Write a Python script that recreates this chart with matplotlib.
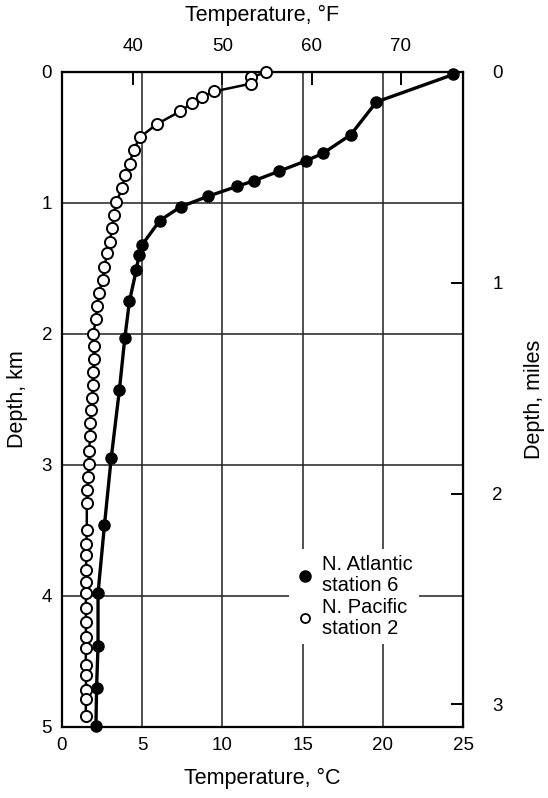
import matplotlib
matplotlib.use("Agg")
import matplotlib.pyplot as plt
from matplotlib.lines import Line2D

plt.rcParams["font.family"] = ["Liberation Sans", "DejaVu Sans"]

# North Atlantic station 6 (filled): temperature in deg C, depth in km
atl_temp = [24.4, 19.6, 18.0, 16.3, 15.2, 13.5, 12.0, 10.9, 9.1, 7.4, 6.1,
            5.0, 4.8, 4.64, 4.21, 3.92, 3.58, 3.07, 2.65, 2.25, 2.25, 2.16, 2.12]
atl_depth = [0.02, 0.23, 0.48, 0.62, 0.68, 0.76, 0.83, 0.875, 0.95, 1.03, 1.135,
             1.32, 1.40, 1.51, 1.75, 2.03, 2.43, 2.95, 3.46, 3.98, 4.38, 4.70, 4.99]

# North Pacific station 2 (open)
pac_temp = [12.7, 11.8, 11.8, 9.47, 8.75, 8.1, 7.39, 5.9, 4.86, 4.47, 4.22,
            3.92, 3.76, 3.39, 3.24, 3.14, 2.98, 2.82, 2.65, 2.53, 2.3, 2.2,
            2.12, 1.95, 1.98, 1.98, 1.95, 1.91, 1.87, 1.81, 1.77, 1.74, 1.71,
            1.66, 1.63, 1.58, 1.55, 1.55, 1.53, 1.52, 1.5, 1.5, 1.49, 1.5,
            1.49, 1.5, 1.5, 1.48, 1.5, 1.5, 1.5, 1.48]
pac_depth = [0.005, 0.04, 0.09, 0.15, 0.19, 0.24, 0.30, 0.40, 0.50, 0.595, 0.70,
             0.786, 0.89, 0.99, 1.09, 1.19, 1.295, 1.385, 1.486, 1.588, 1.69, 1.79,
             1.89, 2.0, 2.09, 2.19, 2.29, 2.39, 2.49, 2.58, 2.68, 2.78, 2.89,
             2.99, 3.09, 3.19, 3.29, 3.50, 3.60, 3.69, 3.80, 3.89, 3.98, 4.09,
             4.20, 4.31, 4.40, 4.53, 4.60, 4.72, 4.79, 4.92]

c_ticks = [0, 5, 10, 15, 20, 25]
f_ticks = [40, 50, 60, 70]
km_ticks = [0, 1, 2, 3, 4, 5]
mi_ticks = [0, 1, 2, 3]

KM_PER_MI = 1.609344


def c_to_f(c):
    return c * 9.0 / 5.0 + 32.0


def f_to_c(f):
    return (f - 32.0) * 5.0 / 9.0


def km_to_mi(d):
    return d / KM_PER_MI


def mi_to_km(d):
    return d * KM_PER_MI


fig = plt.figure(figsize=(5.48, 7.98), dpi=100)
ax = fig.add_axes([0.113, 0.089, 0.732, 0.821])

ax.set_xlim(0, 25)
ax.set_ylim(5, 0)

# grid lines
for c in c_ticks[1:-1]:
    ax.axvline(c, color="#222222", lw=1.1, zorder=1)
for d in km_ticks[1:-1]:
    ax.axhline(d, color="#222222", lw=1.1, zorder=1)

ax.plot(pac_temp, pac_depth, "-", color="black", lw=1.8, marker="o",
        ms=8, mfc="white", mec="black", mew=1.4, zorder=3, clip_on=False)
ax.plot(atl_temp, atl_depth, "-", color="black", lw=2.4, marker="o",
        ms=8, mfc="black", mec="black", zorder=4, clip_on=False)

ax.set_xticks(c_ticks)
ax.set_yticks(km_ticks)
ax.tick_params(axis="both", length=0, labelsize=13.5, pad=7)
for s in ax.spines.values():
    s.set_linewidth(1.6)

ax.set_xlabel("Temperature, °C", fontsize=15.5, labelpad=10)
ax.set_ylabel("Depth, km", fontsize=15.5, labelpad=10)

# top Fahrenheit axis
top = ax.secondary_xaxis("top", functions=(c_to_f, f_to_c))
top.set_xticks(f_ticks)
top.tick_params(direction="in", length=9, width=1.4, labelsize=13.5, pad=12)
top.set_xlabel("Temperature, °F", fontsize=15.5, labelpad=12)

# right miles axis
right = ax.secondary_yaxis("right", functions=(km_to_mi, mi_to_km))
right.set_yticks(mi_ticks)
right.tick_params(direction="in", length=9, width=1.4, labelsize=13.5, pad=21)
right.set_ylabel("Depth, miles", fontsize=15.5, labelpad=15)

handles = [
    Line2D([], [], ls="", marker="o", ms=8, mfc="black", mec="black"),
    Line2D([], [], ls="", marker="o", ms=6.5, mfc="white", mec="black", mew=1.3),
]
leg = ax.legend(handles, ["N. Atlantic\nstation 6", "N. Pacific\nstation 2"],
                loc="upper left", bbox_to_anchor=(0.54, 0.287), fontsize=14.5,
                frameon=True, framealpha=1, edgecolor="none", handletextpad=0.35,
                handlelength=1.0, labelspacing=0.12, borderpad=0.3,
                fancybox=False)
leg.set_zorder(5)
for t in leg.get_texts():
    t.set_linespacing(1.15)

fig.savefig("out.png", dpi=100)
